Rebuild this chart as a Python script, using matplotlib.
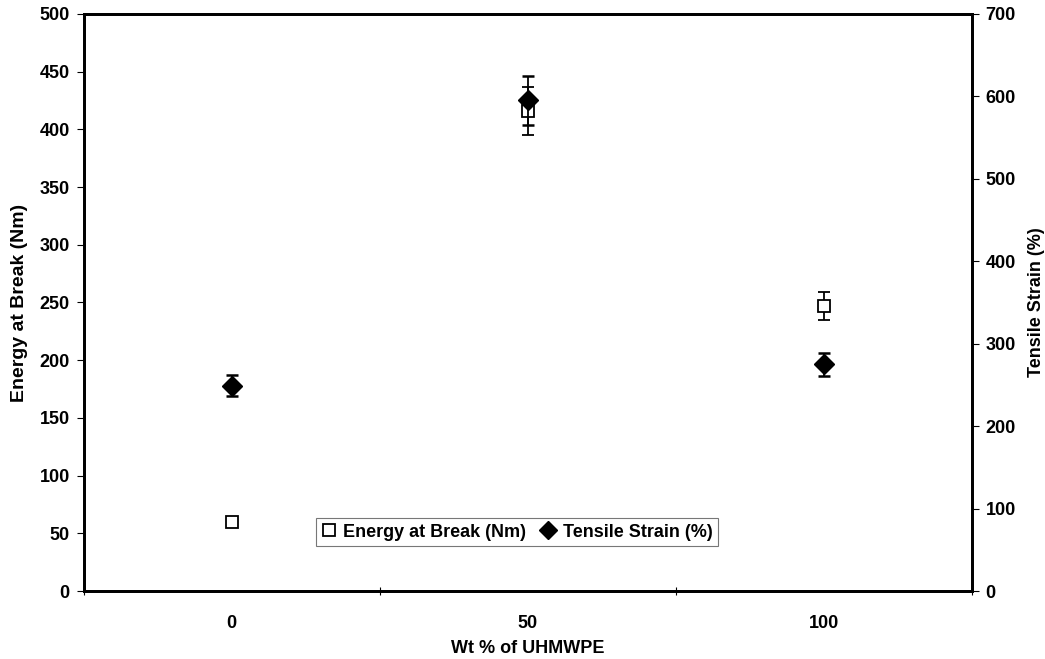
import numpy as np
import matplotlib.pyplot as plt
from matplotlib.lines import Line2D

plt.rcParams['font.family'] = ['Liberation Sans', 'DejaVu Sans']
plt.rcParams['font.weight'] = 'bold'

# Dades llegides del grafic
wt = [0, 50, 100]                       # Wt % of UHMWPE
energy = [60, 416, 247]                 # Energy at Break (Nm)
energy_err = [0, 21, 12]
strain = [249, 595, 275]                # Tensile Strain (%)
strain_err = [13, 30, 14]

fig = plt.figure(figsize=(10.45, 6.59), dpi=100)
ax = fig.add_axes([0.080, 0.103, 0.850, 0.876])
ax2 = ax.twinx()

# El primer punt d'energia no te barra d'error visible
ax.errorbar(wt, energy, yerr=energy_err, errorevery=(1, 1), fmt='s', ms=8, mfc='white',
            mec='black', mew=1.3, ecolor='black', elinewidth=1.3, capsize=4.5, capthick=1.8)
ax2.errorbar(wt, strain, yerr=strain_err, fmt='D', ms=10, mfc='black', mec='black',
             ecolor='black', elinewidth=1.3, capsize=4.5, capthick=1.8)

ax.set_xlim(-25, 125)
ax.set_ylim(0, 500)
ax2.set_ylim(0, 700)

ax.set_xticks([-25, 25, 75, 125])
ax.set_xticklabels([])
ax.set_xticks([0, 50, 100], minor=True)
ax.set_xticklabels(['0', '50', '100'], minor=True)
ax.tick_params(axis='x', which='minor', length=0, pad=17, labelsize=13)
ax.tick_params(axis='x', which='major', direction='inout', length=6, width=0.8)

ax.set_yticks(np.arange(0, 501, 50))
ax2.set_yticks(np.arange(0, 701, 100))
ax.tick_params(axis='y', direction='out', length=5, width=0.8, labelsize=13, pad=5)
ax2.tick_params(axis='y', direction='out', length=5, width=0.8, labelsize=13, pad=5)

for a in (ax, ax2):
    for s in a.spines.values():
        s.set_linewidth(2)

ax.set_xlabel('Wt % of UHMWPE', fontsize=13, fontweight='bold', labelpad=6)
ax.set_ylabel('Energy at Break (Nm)', fontsize=14, fontweight='bold', labelpad=8)
ax2.set_ylabel('Tensile Strain (%)', fontsize=13, fontweight='bold', labelpad=9)

# Llegenda amb marcadors sense barres d'error
h1 = Line2D([], [], ls='none', marker='s', ms=8, mfc='white', mec='black', mew=1.3)
h2 = Line2D([], [], ls='none', marker='D', ms=9, mfc='black', mec='black')
leg = ax2.legend([h1, h2], ['Energy at Break (Nm)', 'Tensile Strain (%)'], ncol=2,
                 loc='center', bbox_to_anchor=(0.488, 0.102), fancybox=False,
                 frameon=True, edgecolor='#555555', handlelength=0.8,
                 handletextpad=0.4, columnspacing=0.8, borderpad=0.3,
                 prop={'weight': 'bold', 'size': 13})
leg.get_frame().set_linewidth(0.8)

fig.savefig('out.png', dpi=100)
